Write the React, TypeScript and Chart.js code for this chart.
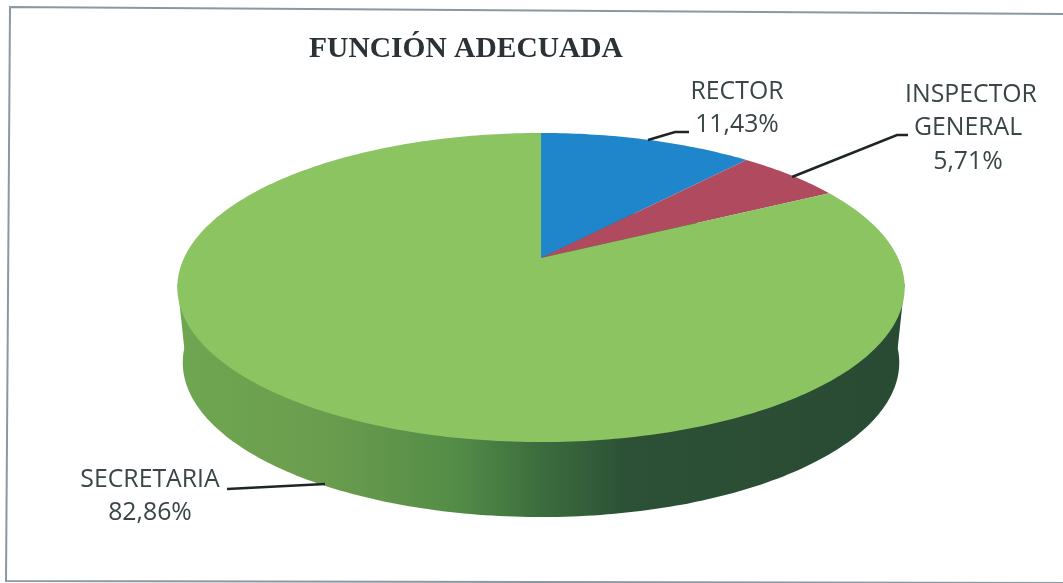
import React, { useEffect, useRef } from "react";
import { Chart, registerables } from "chart.js";

Chart.register(...registerables);

const categories = ["RECTOR", "INSPECTOR GENERAL", "SECRETARIA"];
const shares = [11.43, 5.71, 82.86];
const valueLabels = ["11,43%", "5,71%", "82,86%"];
const sliceColors = ["#1f86cc", "#b04b5f", "#8bc461"];
const chartTitle = "FUNCIÓN ADECUADA";

const K = 0.191;
const HALF_W = 357;
const HALF_H = 148.9;
const DEPTH = 75;
const TEXT = "#3a4548";
const LABEL_FONT = "24.8px 'Open Sans', sans-serif";

function project(cx: number, cy: number, angle: number, sx = 1) {
  const u = Math.cos(angle);
  const v = -Math.sin(angle);
  const w = 1 + K * v;
  return { x: cx + (sx * HALF_W * u) / w, y: cy - (HALF_H * v) / w };
}

function tracePerimeter(ctx: CanvasRenderingContext2D, cx: number, cy: number, from: number, to: number, first: boolean, sx = 1) {
  const steps = Math.max(2, Math.ceil(Math.abs(to - from) * 60));
  for (let i = 0; i <= steps; i++) {
    const p = project(cx, cy, from + ((to - from) * i) / steps, sx);
    if (i === 0 && first) ctx.moveTo(p.x, p.y);
    else ctx.lineTo(p.x, p.y);
  }
}

const pie3d = {
  id: "pie3d",
  beforeDatasetDraw(chart: any) {
    const { ctx } = chart;
    const arcs = chart.getDatasetMeta(0).data;
    const cx = arcs[0].x;
    const cy = arcs[0].y;

    // side wall
    const wall = ctx.createLinearGradient(178, 0, 902, 0);
    wall.addColorStop(0, "#6fa651");
    wall.addColorStop(0.2, "#6b9d4e");
    wall.addColorStop(0.38, "#548d47");
    wall.addColorStop(0.5, "#3c6d3e");
    wall.addColorStop(0.62, "#2c5136");
    wall.addColorStop(1, "#294a33");
    ctx.save();
    ctx.fillStyle = wall;
    ctx.beginPath();
    tracePerimeter(ctx, cx, cy + DEPTH, 0, Math.PI * 2, true, 0.985);
    ctx.closePath();
    ctx.fill();
    ctx.beginPath();
    const a = project(cx, cy, 0.17);
    const b = project(cx, cy, Math.PI - 0.17);
    const c = project(cx, cy + DEPTH, Math.PI - 0.1, 0.985);
    const d = project(cx, cy + DEPTH, 0.1, 0.985);
    ctx.moveTo(a.x, a.y);
    ctx.lineTo(b.x, b.y);
    ctx.lineTo(c.x, c.y);
    ctx.lineTo(d.x, d.y);
    ctx.closePath();
    ctx.fill();

    // top face, from the angles Chart.js computed for each value
    arcs.forEach((arc: any, i: number) => {
      ctx.fillStyle = sliceColors[i];
      ctx.beginPath();
      ctx.moveTo(cx, cy);
      tracePerimeter(ctx, cx, cy, arc.startAngle, arc.endAngle, false);
      ctx.closePath();
      ctx.fill();
    });

    // frame: slightly skewed, open on the right
    ctx.strokeStyle = "#8a98a2";
    ctx.lineWidth = 2;
    ctx.beginPath();
    ctx.moveTo(1063, 14);
    ctx.lineTo(10, 7);
    ctx.lineTo(6, 581);
    ctx.lineTo(1063, 583);
    ctx.stroke();

    // title
    ctx.fillStyle = "#2b3236";
    ctx.font = "bold 29.5px 'Liberation Serif', serif";
    ctx.textAlign = "center";
    ctx.textBaseline = "middle";
    ctx.fillText(chartTitle, 466, 49);

    // leader lines
    ctx.strokeStyle = "#1e2526";
    ctx.lineWidth = 2.5;
    const leaders = [
      [[648, 140], [675, 132], [689, 132]],
      [[792, 177], [897, 135], [908, 135]],
      [[325, 484], [227, 489]],
    ];
    leaders.forEach((pts) => {
      ctx.beginPath();
      pts.forEach((p, i) => (i ? ctx.lineTo(p[0], p[1]) : ctx.moveTo(p[0], p[1])));
      ctx.stroke();
    });

    // labels
    ctx.fillStyle = TEXT;
    ctx.font = LABEL_FONT;
    ctx.fillText(categories[0], 737, 92);
    ctx.fillText(valueLabels[0], 737, 125);
    const words = categories[1].split(" ");
    ctx.fillText(words[0], 971, 95);
    ctx.fillText(words[1], 968, 128);
    ctx.fillText(valueLabels[1], 968, 162);
    ctx.fillText(categories[2], 150, 480);
    ctx.fillText(valueLabels[2], 150, 513);
    ctx.restore();
    return false;
  },
};

export default function App() {
  const ref = useRef<HTMLCanvasElement>(null);
  useEffect(() => {
    const chart = new Chart(ref.current as HTMLCanvasElement, {
      type: "pie",
      data: {
        labels: categories,
        datasets: [{ data: shares, backgroundColor: sliceColors, borderWidth: 0 }],
      },
      options: {
        responsive: false,
        animation: false,
        layout: { padding: { left: 19, bottom: 67 } },
        plugins: { legend: { display: false }, tooltip: { enabled: false } },
      },
      plugins: [pie3d],
    } as any);
    return () => chart.destroy();
  }, []);
  return (
    <div style={{ position: "fixed", left: 0, top: 0, width: 1063, height: 583, background: "#fff" }}>
      <canvas ref={ref} width={1063} height={583} style={{ display: "block" }} />
    </div>
  );
}
